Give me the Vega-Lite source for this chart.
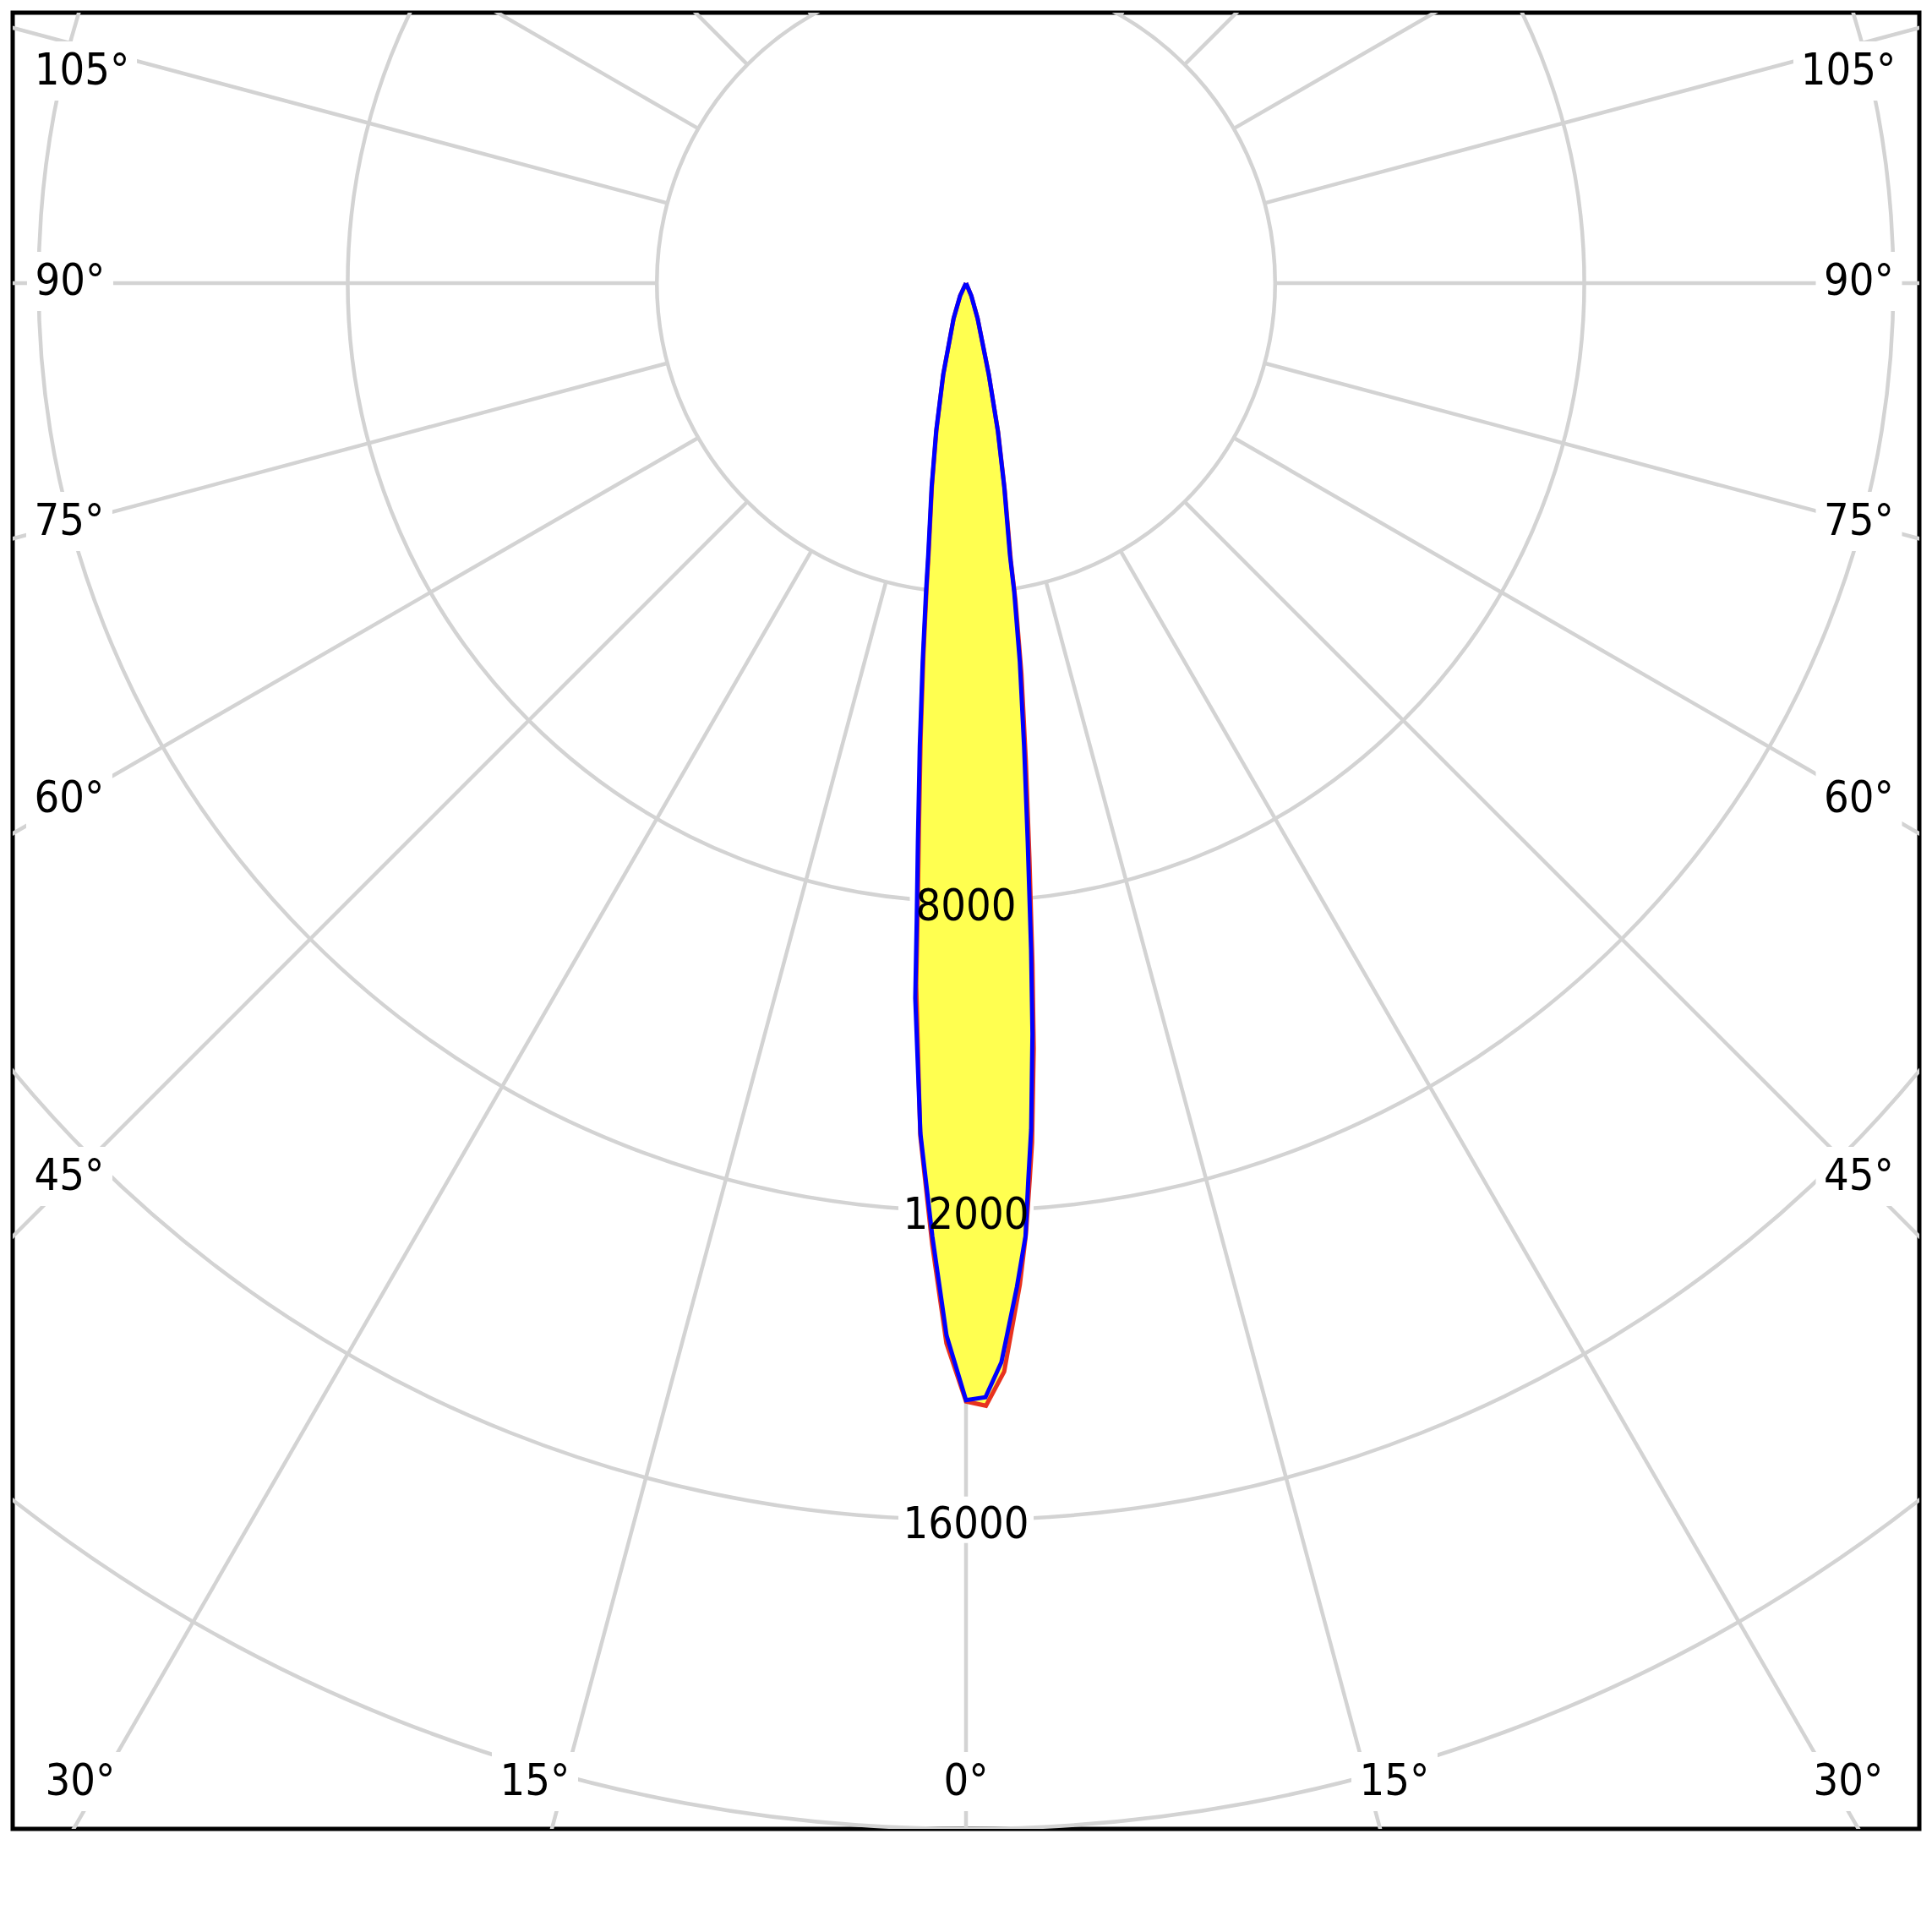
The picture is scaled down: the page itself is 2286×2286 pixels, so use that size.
{
  "$schema": "https://vega.github.io/schema/vega-lite/v6.json",
  "width": 2256,
  "height": 2149,
  "autosize": {"type": "none"},
  "padding": {"left": 15, "top": 15, "right": 15, "bottom": 15},
  "background": "white",
  "config": {"view": {"stroke": "black", "strokeWidth": 5}},
  "datasets": {
    "circles": [{"r": 4000}, {"r": 8000}, {"r": 12000}, {"r": 16000}, {"r": 20000}, {"r": 24000}],
    "spokes": [
      {"a": 0, "r0": 4000, "r1": 40000}, {"a": 15, "r0": 4000, "r1": 40000}, {"a": 30, "r0": 4000, "r1": 40000},
      {"a": 45, "r0": 4000, "r1": 40000}, {"a": 60, "r0": 4000, "r1": 40000}, {"a": 75, "r0": 4000, "r1": 40000},
      {"a": 90, "r0": 4000, "r1": 40000}, {"a": 105, "r0": 4000, "r1": 40000}, {"a": 120, "r0": 4000, "r1": 40000},
      {"a": 135, "r0": 4000, "r1": 40000}, {"a": 150, "r0": 4000, "r1": 40000}, {"a": 165, "r0": 4000, "r1": 40000},
      {"a": 180, "r0": 4000, "r1": 40000}, {"a": -15, "r0": 4000, "r1": 40000}, {"a": -30, "r0": 4000, "r1": 40000},
      {"a": -45, "r0": 4000, "r1": 40000}, {"a": -60, "r0": 4000, "r1": 40000}, {"a": -75, "r0": 4000, "r1": 40000},
      {"a": -90, "r0": 4000, "r1": 40000}, {"a": -105, "r0": 4000, "r1": 40000}, {"a": -120, "r0": 4000, "r1": 40000},
      {"a": -135, "r0": 4000, "r1": 40000}, {"a": -150, "r0": 4000, "r1": 40000}, {"a": -165, "r0": 4000, "r1": 40000}
    ],
    "deglabels": [
      {"t": "105°", "x": -11438, "y": 2745}, {"t": "105°", "x": 11416, "y": 2745},
      {"t": "90°", "x": -11592, "y": 22}, {"t": "90°", "x": 11553, "y": 22},
      {"t": "75°", "x": -11603, "y": -3084}, {"t": "75°", "x": 11553, "y": -3084},
      {"t": "60°", "x": -11603, "y": -6671}, {"t": "60°", "x": 11553, "y": -6671},
      {"t": "45°", "x": -11603, "y": -11559}, {"t": "45°", "x": 11553, "y": -11559},
      {"t": "30°", "x": -11460, "y": -19388}, {"t": "15°", "x": -5577, "y": -19388},
      {"t": "0°", "x": 0, "y": -19388}, {"t": "15°", "x": 5544, "y": -19388},
      {"t": "30°", "x": 11416, "y": -19388}
    ],
    "ringlabels": [
      {"t": "8000", "x": 0, "y": -8000}, {"t": "12000", "x": 0, "y": -12000}, {"t": "16000", "x": 0, "y": -16000}
    ],
    "curves": [
      {"c": "b", "a": -90, "I": 0}, {"c": "b", "a": -25, "I": 181}, {"c": "b", "a": -19.4, "I": 483}, {"c": "b", "a": -14.0, "I": 1220},
      {"c": "b", "a": -11.4, "I": 1952}, {"c": "b", "a": -9.56, "I": 2680}, {"c": "b", "a": -7.91, "I": 3552},
      {"c": "b", "a": -7.38, "I": 4024}, {"c": "b", "a": -6.53, "I": 4931}, {"c": "b", "a": -5.70, "I": 6022},
      {"c": "b", "a": -4.92, "I": 7262}, {"c": "b", "a": -4.42, "I": 8280}, {"c": "b", "a": -4.06, "I": 9273},
      {"c": "b", "a": -3.07, "I": 11016}, {"c": "b", "a": -2.02, "I": 12342}, {"c": "b", "a": -1.06, "I": 13616},
      {"c": "b", "a": 0, "I": 14453}, {"c": "b", "a": 1.0, "I": 14418}, {"c": "b", "a": 1.88, "I": 13968},
      {"c": "b", "a": 2.9, "I": 13007}, {"c": "b", "a": 3.57, "I": 12357}, {"c": "b", "a": 3.97, "I": 11636},
      {"c": "b", "a": 4.40, "I": 10986}, {"c": "b", "a": 5.06, "I": 9748}, {"c": "b", "a": 5.58, "I": 8658},
      {"c": "b", "a": 6.30, "I": 7280}, {"c": "b", "a": 7.15, "I": 6039}, {"c": "b", "a": 8.09, "I": 4948},
      {"c": "b", "a": 8.88, "I": 4039}, {"c": "b", "a": 9.18, "I": 3564}, {"c": "b", "a": 10.62, "I": 2689},
      {"c": "b", "a": 12.16, "I": 1958}, {"c": "b", "a": 14.0, "I": 1220}, {"c": "b", "a": 18.2, "I": 480},
      {"c": "b", "a": 22.8, "I": 178}, {"c": "b", "a": 90, "I": 0},
      {"c": "r", "a": -90, "I": 0}, {"c": "r", "a": -25, "I": 180}, {"c": "r", "a": -19.4, "I": 480}, {"c": "r", "a": -14.0, "I": 1210},
      {"c": "r", "a": -11.4, "I": 1930}, {"c": "r", "a": -9.56, "I": 2650}, {"c": "r", "a": -7.91, "I": 3500},
      {"c": "r", "a": -7.38, "I": 3960}, {"c": "r", "a": -6.53, "I": 4840}, {"c": "r", "a": -5.70, "I": 5900},
      {"c": "r", "a": -4.92, "I": 7100}, {"c": "r", "a": -4.42, "I": 8100}, {"c": "r", "a": -4.06, "I": 9100},
      {"c": "r", "a": -3.07, "I": 11050}, {"c": "r", "a": -2.02, "I": 12440}, {"c": "r", "a": -1.06, "I": 13720},
      {"c": "r", "a": 0, "I": 14470}, {"c": "r", "a": 1.02, "I": 14527}, {"c": "r", "a": 2.01, "I": 14093},
      {"c": "r", "a": 3.08, "I": 12977}, {"c": "r", "a": 3.61, "I": 12326}, {"c": "r", "a": 4.06, "I": 11639},
      {"c": "r", "a": 4.40, "I": 11150}, {"c": "r", "a": 5.06, "I": 9940}, {"c": "r", "a": 5.58, "I": 8850},
      {"c": "r", "a": 6.30, "I": 7480}, {"c": "r", "a": 7.15, "I": 6220}, {"c": "r", "a": 8.09, "I": 5100},
      {"c": "r", "a": 8.88, "I": 4140}, {"c": "r", "a": 9.18, "I": 3640}, {"c": "r", "a": 10.62, "I": 2720},
      {"c": "r", "a": 12.16, "I": 1975}, {"c": "r", "a": 14.0, "I": 1225}, {"c": "r", "a": 18.2, "I": 482},
      {"c": "r", "a": 22.8, "I": 179}, {"c": "r", "a": 90, "I": 0}
    ]
  },
  "layer": [
    {
      "data": {"name": "circles"},
      "mark": {"type": "arc", "filled": false, "fill": null, "stroke": "#d3d3d3", "strokeWidth": 4.5, "theta": 0, "theta2": 6.2832, "clip": true},
      "encoding": {
        "x": {"datum": 0, "type": "quantitative", "scale": {"domain": [-12335, 12335], "nice": false, "zero": false}, "axis": null},
        "y": {"datum": 0, "type": "quantitative", "scale": {"domain": [-20000, 3500], "nice": false, "zero": false}, "axis": null},
        "radius": {"field": "r", "type": "quantitative", "stack": null, "scale": {"type": "linear", "domain": [0, 20000], "range": [0, 1828.94], "zero": true}, "legend": null}
      }
    },
    {
      "data": {"name": "spokes"},
      "transform": [
        {"calculate": "datum.r0 * sin(datum.a * PI / 180)", "as": "x1"},
        {"calculate": "-datum.r0 * cos(datum.a * PI / 180)", "as": "y1"},
        {"calculate": "datum.r1 * sin(datum.a * PI / 180)", "as": "x2"},
        {"calculate": "-datum.r1 * cos(datum.a * PI / 180)", "as": "y2"}
      ],
      "mark": {"type": "rule", "stroke": "#d3d3d3", "strokeWidth": 4.5, "clip": true},
      "encoding": {
        "x": {"field": "x1", "type": "quantitative", "scale": {"domain": [-12335, 12335], "nice": false, "zero": false}, "axis": null},
        "y": {"field": "y1", "type": "quantitative", "scale": {"domain": [-20000, 3500], "nice": false, "zero": false}, "axis": null},
        "x2": {"field": "x2"},
        "y2": {"field": "y2"}
      }
    },
    {
      "data": {"name": "deglabels"},
      "transform": [{"filter": "length(datum.t) == 4"}],
      "mark": {"type": "point", "shape": "M-1,-0.5385H1V0.5385H-1Z", "size": 16900, "filled": true, "fill": "white", "stroke": null, "opacity": 1},
      "encoding": {
        "x": {"field": "x", "type": "quantitative", "scale": {"domain": [-12335, 12335], "nice": false, "zero": false}, "axis": null},
        "y": {"field": "y", "type": "quantitative", "scale": {"domain": [-20000, 3500], "nice": false, "zero": false}, "axis": null}
      }
    },
    {
      "data": {"name": "deglabels"},
      "transform": [{"filter": "length(datum.t) == 3"}],
      "mark": {"type": "point", "shape": "M-1,-0.686H1V0.686H-1Z", "size": 10404, "filled": true, "fill": "white", "stroke": null, "opacity": 1},
      "encoding": {
        "x": {"field": "x", "type": "quantitative", "scale": {"domain": [-12335, 12335], "nice": false, "zero": false}, "axis": null},
        "y": {"field": "y", "type": "quantitative", "scale": {"domain": [-20000, 3500], "nice": false, "zero": false}, "axis": null}
      }
    },
    {
      "data": {"name": "deglabels"},
      "transform": [{"filter": "length(datum.t) == 2"}],
      "mark": {"type": "point", "shape": "M-1,-0.946H1V0.946H-1Z", "size": 5476, "filled": true, "fill": "white", "stroke": null, "opacity": 1},
      "encoding": {
        "x": {"field": "x", "type": "quantitative", "scale": {"domain": [-12335, 12335], "nice": false, "zero": false}, "axis": null},
        "y": {"field": "y", "type": "quantitative", "scale": {"domain": [-20000, 3500], "nice": false, "zero": false}, "axis": null}
      }
    },
    {
      "data": {"name": "ringlabels"},
      "transform": [{"filter": "length(datum.t) == 4"}],
      "mark": {"type": "point", "shape": "M-1,-0.4135H1V0.4135H-1Z", "size": 17689, "filled": true, "fill": "white", "stroke": null, "opacity": 1},
      "encoding": {
        "x": {"field": "x", "type": "quantitative", "scale": {"domain": [-12335, 12335], "nice": false, "zero": false}, "axis": null},
        "y": {"field": "y", "type": "quantitative", "scale": {"domain": [-20000, 3500], "nice": false, "zero": false}, "axis": null}
      }
    },
    {
      "data": {"name": "ringlabels"},
      "transform": [{"filter": "length(datum.t) == 5"}],
      "mark": {"type": "point", "shape": "M-1,-0.344H1V0.344H-1Z", "size": 25600, "filled": true, "fill": "white", "stroke": null, "opacity": 1},
      "encoding": {
        "x": {"field": "x", "type": "quantitative", "scale": {"domain": [-12335, 12335], "nice": false, "zero": false}, "axis": null},
        "y": {"field": "y", "type": "quantitative", "scale": {"domain": [-20000, 3500], "nice": false, "zero": false}, "axis": null}
      }
    },
    {
      "data": {"name": "curves"},
      "transform": [
        {"filter": "datum.c == 'r'"},
        {"calculate": "datum.I * sin(datum.a * PI / 180)", "as": "px"},
        {"calculate": "-datum.I * cos(datum.a * PI / 180)", "as": "py"}
      ],
      "mark": {"type": "line", "fill": "#ffff50", "strokeOpacity": 0, "strokeWidth": 0},
      "encoding": {
        "x": {"field": "px", "type": "quantitative", "scale": {"domain": [-12335, 12335], "nice": false, "zero": false}, "axis": null},
        "y": {"field": "py", "type": "quantitative", "scale": {"domain": [-20000, 3500], "nice": false, "zero": false}, "axis": null},
        "order": {"field": "a", "type": "quantitative"}
      }
    },
    {
      "data": {"name": "curves"},
      "transform": [
        {"filter": "datum.c == 'r'"},
        {"calculate": "datum.I * sin(datum.a * PI / 180)", "as": "px"},
        {"calculate": "-datum.I * cos(datum.a * PI / 180)", "as": "py"}
      ],
      "mark": {"type": "line", "stroke": "#e8321e", "strokeWidth": 5},
      "encoding": {
        "x": {"field": "px", "type": "quantitative", "scale": {"domain": [-12335, 12335], "nice": false, "zero": false}, "axis": null},
        "y": {"field": "py", "type": "quantitative", "scale": {"domain": [-20000, 3500], "nice": false, "zero": false}, "axis": null},
        "order": {"field": "a", "type": "quantitative"}
      }
    },
    {
      "data": {"name": "curves"},
      "transform": [
        {"filter": "datum.c == 'b'"},
        {"calculate": "datum.I * sin(datum.a * PI / 180)", "as": "px"},
        {"calculate": "-datum.I * cos(datum.a * PI / 180)", "as": "py"}
      ],
      "mark": {"type": "line", "stroke": "#0000ff", "strokeWidth": 5},
      "encoding": {
        "x": {"field": "px", "type": "quantitative", "scale": {"domain": [-12335, 12335], "nice": false, "zero": false}, "axis": null},
        "y": {"field": "py", "type": "quantitative", "scale": {"domain": [-20000, 3500], "nice": false, "zero": false}, "axis": null},
        "order": {"field": "a", "type": "quantitative"}
      }
    },
    {
      "data": {"name": "deglabels"},
      "mark": {"type": "text", "font": "DejaVu Sans Condensed, DejaVu Sans", "fontSize": 52, "color": "black", "align": "center", "baseline": "middle"},
      "encoding": {
        "x": {"field": "x", "type": "quantitative", "scale": {"domain": [-12335, 12335], "nice": false, "zero": false}, "axis": null},
        "y": {"field": "y", "type": "quantitative", "scale": {"domain": [-20000, 3500], "nice": false, "zero": false}, "axis": null},
        "text": {"field": "t"}
      }
    },
    {
      "data": {"name": "ringlabels"},
      "mark": {"type": "text", "font": "DejaVu Sans Condensed, DejaVu Sans", "fontSize": 52, "color": "black", "align": "center", "baseline": "middle", "dy": 6},
      "encoding": {
        "x": {"field": "x", "type": "quantitative", "scale": {"domain": [-12335, 12335], "nice": false, "zero": false}, "axis": null},
        "y": {"field": "y", "type": "quantitative", "scale": {"domain": [-20000, 3500], "nice": false, "zero": false}, "axis": null},
        "text": {"field": "t"}
      }
    }
  ]
}
